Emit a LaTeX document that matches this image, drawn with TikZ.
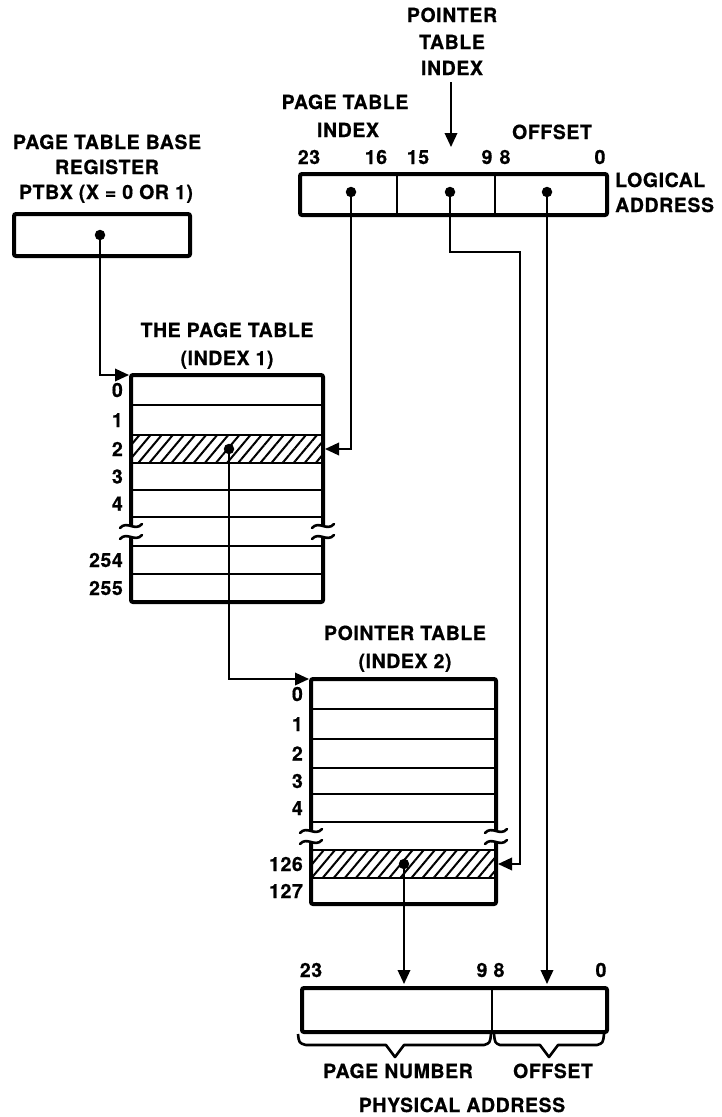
\documentclass[tikz,border=0pt]{standalone}
\usepackage{fontspec}
\setmainfont{TeX Gyre Heros}[LetterSpace=3,FakeBold=0.6]
\usetikzlibrary{arrows.meta,patterns.meta}
\begin{document}
\begin{tikzpicture}[x=1pt,y=-1pt,
  lbl/.style={font=\bfseries\fontsize{19.5}{21}\selectfont, inner sep=0pt, text height=14pt, text depth=0pt},
  reg/.style={draw, line width=4pt, rounded corners=2pt, inner sep=0pt, anchor=north west},
  conn/.style={line width=2pt, -{Triangle[length=14pt,width=12.5pt]}},
  dot/.style={circle, fill, inner sep=0pt, minimum size=10.5pt},
  rowline/.style={line width=2.6pt},
  divider/.style={line width=2.8pt},
  edge/.style={line width=4pt, rounded corners=2pt},
  hatch/.style={pattern={Lines[angle=50,distance=8.5pt,line width=2pt]}},
  brk/.pic={\draw[line width=2.6pt,line cap=round] (-11,2) .. controls (-4,-6) and (4,6) .. (11,-2);},
  brace/.style={line width=2.6pt, line join=round}
]
\useasboundingbox (0,0) rectangle (721,1117);

% ---------- top labels ----------
\node[lbl] (ptiA) at (452,15) {POINTER};
\node[lbl] (ptiB) at (452,42) {TABLE};
\node[lbl] (ptiC) at (452,68) {INDEX};
\coordinate (ptiArrTop) at (451,82);
\coordinate (ptiArrTip) at (451,147);
\draw[conn] (ptiArrTop) -- (ptiArrTip);

\node[lbl] (ptxA) at (345,102) {PAGE TABLE};
\node[lbl] (ptxB) at (348,130) {INDEX};
\node[lbl] (offA) at (552,132) {OFFSET};

\node[lbl] (b23) at (309,157) {23};
\node[lbl] (b16) at (376,157) {16};
\node[lbl] (b15) at (418,157) {15};
\node[lbl] (b9)  at (487,157) {9};
\node[lbl] (b8)  at (505,157) {8};
\node[lbl] (b0)  at (600,157) {0};

\node[lbl, anchor=west] (logA) at (615,180) {LOGICAL};
\node[lbl, anchor=west] (logB) at (615,205) {ADDRESS};

% logical address register
\node[reg, minimum width=307pt, minimum height=41pt] (logical) at (298,172) {};
\draw[divider] (397,172) -- (397,213);
\draw[divider] (495,172) -- (495,213);
\node[dot] (dPT)  at (351,192) {};
\node[dot] (dPTI) at (450,192) {};
\node[dot] (dOFF) at (547,192) {};

% ---------- PTBX ----------
\node[lbl] (bxA) at (107,142) {PAGE TABLE BASE};
\node[lbl] (bxB) at (107,167) {REGISTER};
\node[lbl] (bxC) at (106,192) {PTBX (X = 0 OR 1)};
\node[reg, minimum width=176pt, minimum height=42pt] (ptbx) at (12,212) {};
\node[dot] (dBX) at (100,235) {};

% ---------- page table ----------
\node[lbl] (ptT1) at (227,330) {THE PAGE TABLE};
\node[lbl] (ptT2) at (227,358) {(INDEX 1)};
\fill[hatch] (131,435) rectangle (323,463);
\foreach \yy in {405,435,463,490,517,546,574} \draw[rowline] (131,\yy) -- (323,\yy);
\draw[edge] (131,526) -- (131,375) -- (323,375) -- (323,526);
\draw[edge] (131,537) -- (131,602) -- (323,602) -- (323,537);
\pic at (131,526) {brk}; \pic at (131,537) {brk};
\pic at (323,526) {brk}; \pic at (323,537) {brk};
\node[lbl, anchor=east] (pr0) at (123,390) {0};
\node[lbl, anchor=east] (pr1) at (123,420) {1};
\node[lbl, anchor=east] (pr2) at (123,449) {2};
\node[lbl, anchor=east] (pr3) at (123,476.5) {3};
\node[lbl, anchor=east] (pr4) at (123,503.5) {4};
\node[lbl, anchor=east] (pr254) at (123,560) {254};
\node[lbl, anchor=east] (pr255) at (123,588) {255};
\coordinate (ptTopIn) at (129,375);
\coordinate (ptRow2In) at (325,449);
\node[dot] (dRow2) at (229,449) {};

% ---------- pointer table ----------
\node[lbl] (poT1) at (405,633) {POINTER TABLE};
\node[lbl] (poT2) at (405,661) {(INDEX 2)};
\fill[hatch] (311,850) rectangle (496,878);
\foreach \yy in {709,739,768,794,822,850,878} \draw[rowline] (311,\yy) -- (496,\yy);
\draw[edge] (311,831) -- (311,679) -- (496,679) -- (496,831);
\draw[edge] (311,842) -- (311,904) -- (496,904) -- (496,842);
\pic at (311,831) {brk}; \pic at (311,842) {brk};
\pic at (496,831) {brk}; \pic at (496,842) {brk};
\node[lbl, anchor=east] (qr0) at (303,694) {0};
\node[lbl, anchor=east] (qr1) at (303,724) {1};
\node[lbl, anchor=east] (qr2) at (303,753.5) {2};
\node[lbl, anchor=east] (qr3) at (303,781) {3};
\node[lbl, anchor=east] (qr4) at (303,808) {4};
\node[lbl, anchor=east] (qr126) at (303,864) {126};
\node[lbl, anchor=east] (qr127) at (303,891) {127};
\coordinate (poTopIn) at (309,679);
\coordinate (poRowIn) at (498,864);
\node[dot] (dRow126) at (404,864) {};
\coordinate (bend) at (520,252);

% ---------- physical address ----------
\node[reg, minimum width=305pt, minimum height=44pt] (phys) at (300,986) {};
\draw[divider] (492,986) -- (492,1030);
\node[lbl] (c23) at (311,970) {23};
\node[lbl] (c9)  at (482,970) {9};
\node[lbl] (c8)  at (499,970) {8};
\node[lbl] (c0)  at (601,970) {0};
\coordinate (physPN) at (404,984);
\coordinate (physOF) at (547,984);
\draw[brace] (298,1034) .. controls (299,1043) .. (306,1045) -- (386,1045) -- (395,1057) -- (404,1045) -- (484,1045) .. controls (490,1043) .. (491,1034);
\draw[brace] (494,1034) .. controls (495,1043) .. (500,1045) -- (540,1045) -- (549,1057) -- (558,1045) -- (597,1045) .. controls (603,1043) .. (604,1034);
\node[lbl] (pnA) at (398,1071) {PAGE NUMBER};
\node[lbl] (ofB) at (553,1071) {OFFSET};
\node[lbl] (phA) at (462,1105) {PHYSICAL ADDRESS};

% ---------- connectors ----------
\draw[conn] (dBX) |- (ptTopIn);
\draw[conn] (dPT) |- (ptRow2In);
\draw[conn] (dRow2) |- (poTopIn);
\draw[conn] (dPTI) |- (bend) |- (poRowIn);
\draw[conn] (dRow126) -- (physPN);
\draw[conn] (dOFF) -- (physOF);
\end{tikzpicture}
\end{document}
